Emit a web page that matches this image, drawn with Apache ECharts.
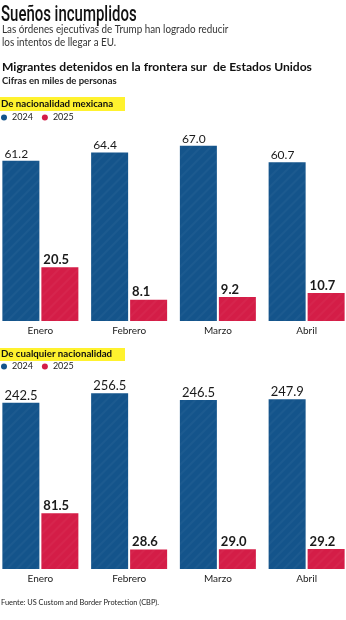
<!DOCTYPE html>
<html><head><meta charset="utf-8">
<script src="https://cdn.jsdelivr.net/npm/echarts@6/dist/echarts.min.js"></script>
<style>html,body{margin:0;padding:0;background:#fff}#c{width:346px;height:620px}</style>
</head><body><div id="c"></div>
<script>
const months = ['Enero', 'Febrero', 'Marzo', 'Abril'];
const seriesNames = ['2024', '2025'];
const mex2024 = [61.2, 64.4, 67.0, 60.7];
const mex2025 = [20.5, 8.1, 9.2, 10.7];
const all2024 = [242.5, 256.5, 246.5, 247.9];
const all2025 = [81.5, 28.6, 29.0, 29.2];

const BLUE = '#14548b', RED = '#d41d47', YELLOW = '#fff22e';
const FONT = 'Lato, "Open Sans", sans-serif';
const decal = {symbol: 'rect', symbolSize: 1, dashArrayX: [1, 0], dashArrayY: [2, 5], rotation: -Math.PI / 4, color: 'rgba(255,255,255,0.035)'};

function barSeries(name, data, color, idx, bold, fs) {
  return {
    type: 'bar', name: name, data: data, xAxisIndex: idx, yAxisIndex: idx,
    barWidth: 37, barGap: '5.4%',
    itemStyle: {color: color, decal: decal},
    label: {show: true, position: [2, -1], align: 'left', verticalAlign: 'bottom',
      formatter: p => p.value.toFixed(1), color: '#1a1a1a', fontFamily: FONT,
      fontSize: fs, fontWeight: bold ? 'bold' : 'normal'}
  };
}

const legendBase = {left: 1, padding: 0, icon: 'circle', itemWidth: 6, itemHeight: 6, itemGap: 9,
  data: seriesNames, textStyle: {fontSize: 9, fontFamily: FONT, color: '#222'}, selectedMode: false};

const chart = echarts.init(document.getElementById('c'), null, {renderer: 'canvas'});
chart.setOption({
  animation: false,
  aria: {enabled: true, decal: {show: true}},
  grid: [
    {left: -4, width: 355, top: 130, height: 191, outerBoundsMode: 'none'},
    {left: -4, width: 355, top: 384, height: 185, outerBoundsMode: 'none'}
  ],
  xAxis: [0, 1].map(i => ({
    type: 'category', gridIndex: i, data: months,
    axisLine: {show: false}, axisTick: {show: false},
    axisLabel: {color: '#222', fontSize: 10, fontFamily: FONT, margin: 5}
  })),
  yAxis: [
    {type: 'value', gridIndex: 0, min: 0, max: 73, show: false},
    {type: 'value', gridIndex: 1, min: 0, max: 270, show: false}
  ],
  legend: [
    Object.assign({top: 113}, legendBase),
    Object.assign({top: 362}, legendBase)
  ],
  graphic: [
    {type: 'text', x: 1, y: 4, scaleX: 0.68, style: {text: 'Sueños incumplidos', font: '500 22px Roboto, sans-serif', fill: '#111'}},
    {type: 'text', x: 2, y: 23, scaleX: 0.88, style: {text: 'Las órdenes ejecutivas de Trump han logrado reducir\nlos intentos de llegar a EU.', font: '11.2px ' + FONT, lineHeight: 13, fill: '#333'}},
    {type: 'text', left: 2, top: 61, style: {text: 'Migrantes detenidos en la frontera sur  de Estados Unidos', font: 'bold 12.1px ' + FONT, fill: '#111'}},
    {type: 'text', left: 2, top: 76, style: {text: 'Cifras en miles de personas', font: 'bold 9.5px ' + FONT, fill: '#222'}},
    {type: 'rect', left: 0, top: 97, shape: {width: 125, height: 14}, style: {fill: YELLOW}},
    {type: 'text', left: 1, top: 99, style: {text: 'De nacionalidad mexicana', font: 'bold 9.7px ' + FONT, fill: '#111'}},
    {type: 'rect', left: 0, top: 348, shape: {width: 125, height: 13}, style: {fill: YELLOW}},
    {type: 'text', left: 1, top: 349, style: {text: 'De cualquier nacionalidad', font: 'bold 9.7px ' + FONT, fill: '#111'}},
    {type: 'text', left: 1, top: 599, style: {text: 'Fuente: US Custom and Border Protection (CBP).', font: '7.4px ' + FONT, fill: '#222'}}
  ],
  series: [
    barSeries(seriesNames[0], mex2024, BLUE, 0, false, 12),
    barSeries(seriesNames[1], mex2025, RED, 0, true, 13),
    barSeries(seriesNames[0], all2024, BLUE, 1, false, 13),
    barSeries(seriesNames[1], all2025, RED, 1, true, 13)
  ]
});
</script></body></html>
